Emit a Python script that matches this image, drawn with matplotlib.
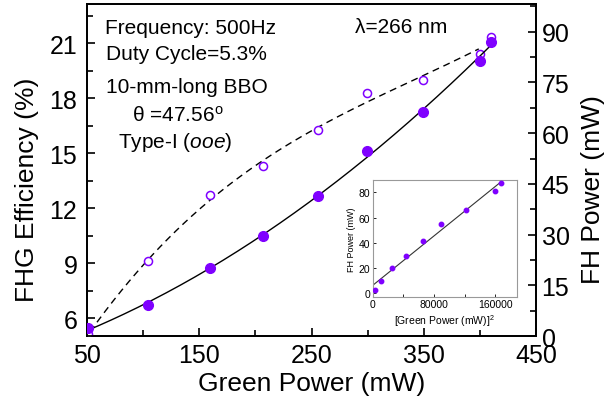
import matplotlib
matplotlib.use("Agg")
import matplotlib.pyplot as plt
import numpy as np

plt.rcParams['font.family'] = ['Liberation Sans', 'DejaVu Sans']
plt.rcParams['mathtext.fontset'] = 'custom'
plt.rcParams['mathtext.rm'] = 'Liberation Sans'
plt.rcParams['mathtext.it'] = 'Liberation Sans:italic'

# data
green_power = [51.2, 104.1, 159.6, 207.1, 255.5, 299.4, 349.3, 399.8, 409.6]     # mW
fh_power = [2.3, 9.3, 20.0, 29.5, 41.5, 54.6, 66.2, 81.3, 87.1]                   # mW (filled)
efficiency = [5.13, 9.09, 12.71, 14.28, 16.27, 18.27, 18.98, 20.40, 21.31]        # % (open)

purple = '#7F00FF'

fig = plt.figure(figsize=(6.06, 4.10), dpi=100)
ax = fig.add_axes([0.1436, 0.178, 0.7409, 0.8098])
ax2 = ax.twinx()

gp = np.array(green_power)
# fitted curves
p_eff = np.polyfit(gp, efficiency, 3)
xe = np.linspace(52.7, 399, 200)
ax.plot(xe, np.polyval(p_eff, xe), color='black', lw=1.0, ls=(0, (5, 3.5)))
ax.plot(green_power, efficiency, 'o', mfc='white', mec=purple, mew=1.1, ms=5.8, zorder=5)

p_fh = np.polyfit(gp, fh_power, 2)
xf = np.linspace(50, 410.6, 200)
ax2.plot(xf, np.polyval(p_fh, xf), color='black', lw=1.0)
ax2.plot(green_power, fh_power, 'o', color=purple, ms=7, zorder=5)

ax.set_xlim(50, 450)
ax.set_ylim(5.02, 23.13)
ax2.set_ylim(0, 98.2)
ax.set_xticks([50, 150, 250, 350, 450])
ax.set_xticks(np.arange(100, 450, 100), minor=True)
ax.set_yticks([6, 9, 12, 15, 18, 21])
ax.set_yticks(np.arange(7.5, 23, 3), minor=True)
ax2.set_yticks([0, 15, 30, 45, 60, 75, 90])
ax2.set_yticks(np.arange(7.5, 98, 15), minor=True)

for a in (ax, ax2):
    for s in a.spines.values():
        s.set_linewidth(1.3)
ax.tick_params(which='both', direction='in', labelsize=18, width=1.2, right=False, top=False)
ax.tick_params(which='major', length=6)
ax.tick_params(which='minor', length=4)
ax.tick_params(axis='x', pad=5)
ax.tick_params(axis='y', pad=7)
ax2.tick_params(which='both', direction='in', labelsize=18, width=1.2, pad=4)
ax2.tick_params(which='major', length=6)
ax2.tick_params(which='minor', length=4)

ax.set_xlabel('Green Power (mW)', fontsize=19)
ax.set_ylabel('FHG Efficiency (%)', fontsize=19)
ax2.set_ylabel('FH Power (mW)', fontsize=19)
ax.xaxis.set_label_coords(0.5, -0.105)
ax.yaxis.set_label_coords(-0.107, 0.443)
ax2.yaxis.set_label_coords(1.10, 0.443)

fs = 15
ax.text(66, 21.55, 'Frequency: 500Hz', fontsize=fs, va='baseline')
ax.text(66.9, 20.13, 'Duty Cycle=5.3%', fontsize=fs, va='baseline')
ax.text(67, 18.31, '10-mm-long BBO', fontsize=fs, va='baseline')
ax.text(89.8, 16.76, 'θ =47.56$^{\\mathrm{o}}$', fontsize=fs, va='baseline')
ax.text(77.9, 15.31, 'Type-I ($\\it{ooe}$)', fontsize=fs, va='baseline')
ax.text(288.8, 21.58, 'λ=266 nm', fontsize=fs, va='baseline')

# inset: FH power vs squared green power
green_sq = gp ** 2
ins = fig.add_axes([0.615, 0.2739, 0.2376, 0.2846])
p_lin = np.polyfit(green_sq, fh_power, 1)
xl = np.linspace(0, 168600, 50)
ins.plot(xl, np.polyval(p_lin, xl), color='#333333', lw=0.8)
ins.plot(green_sq, fh_power, 'o', color=purple, ms=3.2, zorder=5)
ins.set_xlim(0, 188000)
ins.set_ylim(-2.9, 89.8)
ins.set_xticks([0, 80000, 160000])
ins.set_xticks([40000, 120000], minor=True)
ins.set_yticks([0, 20, 40, 60, 80])
for s in ins.spines.values():
    s.set_color('#999999')
    s.set_linewidth(0.8)
ins.tick_params(which='both', direction='in', labelsize=7.5, length=2.5, width=0.6, pad=2)
ins.set_xlabel('[Green Power (mW)]$^2$', fontsize=7.5, labelpad=2)
ins.set_ylabel('FH Power (mW)', fontsize=6.5, labelpad=2)

fig.savefig('out.png', dpi=100)
